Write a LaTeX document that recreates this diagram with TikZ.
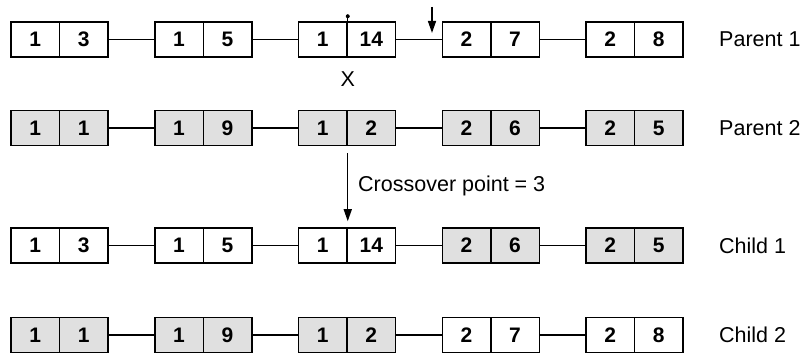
\documentclass[tikz,border=0pt]{standalone}
\usepackage{fontspec}
\setmainfont{Liberation Sans}
\usetikzlibrary{arrows.meta}
\begin{document}
\begin{tikzpicture}[x=1pt,y=-1pt,
  cell/.style={draw, line width=1.5pt, minimum width=48.5pt, minimum height=35pt,
    inner sep=0pt, font=\fontsize{21}{23}\selectfont\bfseries},
  link/.style={line width=1.4pt},
  lbl/.style={anchor=west, inner sep=0pt, font=\fontsize{21.5}{23}\selectfont},
  ptr/.style={line width=1.4pt, -{Triangle[length=12pt,width=8pt]}}
]
\useasboundingbox (0,0) rectangle (802,355);
\def\sh{black!12}
% Row 1: Parent 1
\foreach \a/\b/\f [count=\i from 0] in {1/3/white,1/5/white,1/14/white,2/7/white,2/8/white}{
  \node[cell, fill=\f] (r1a\i) at ({35.25+143.75*\i},39.5) {\a};
  \node[cell, fill=\f] (r1b\i) at ({83.75+143.75*\i},39.5) {\b};
}
% Row 2: Parent 2
\foreach \a/\b/\f [count=\i from 0] in {1/1/\sh,1/9/\sh,1/2/\sh,2/6/\sh,2/5/\sh}{
  \node[cell, fill=\f] (r2a\i) at ({35.25+143.75*\i},128) {\a};
  \node[cell, fill=\f] (r2b\i) at ({83.75+143.75*\i},128) {\b};
}
% Row 3: Child 1
\foreach \a/\b/\f [count=\i from 0] in {1/3/white,1/5/white,1/14/white,2/6/\sh,2/5/\sh}{
  \node[cell, fill=\f] (r3a\i) at ({35.25+143.75*\i},245.5) {\a};
  \node[cell, fill=\f] (r3b\i) at ({83.75+143.75*\i},245.5) {\b};
}
% Row 4: Child 2
\foreach \a/\b/\f [count=\i from 0] in {1/1/\sh,1/9/\sh,1/2/\sh,2/7/white,2/8/white}{
  \node[cell, fill=\f] (r4a\i) at ({35.25+143.75*\i},335) {\a};
  \node[cell, fill=\f] (r4b\i) at ({83.75+143.75*\i},335) {\b};
}
% connectors
\foreach \r in {1,2,3,4}{
  \foreach \i/\j in {0/1,1/2,2/3,3/4}{
    \draw[link] (r\r b\i.east) -- (r\r a\j.west);
  }
}
% labels
\node[lbl] (p1) at (719,39.5) {Parent 1};
\node[lbl] (p2) at (719,128) {Parent 2};
\node[lbl] (c1) at (719,245.5) {Child 1};
\node[lbl] (c2) at (719,335) {Child 2};
% marks on parent 1
\coordinate (tick) at ([yshift=5pt]r1a2.north east);
\draw[line width=1.4pt] (r1a2.north east) -- (tick);
\fill (tick) circle (2pt);
\node[lbl, anchor=center] (xm) at ([yshift=-21pt]r1a2.south east) {X};
\coordinate (a1s) at (432,7);
\coordinate (a1e) at (432,33);
\draw[ptr] (a1s) -- (a1e);
% crossover arrow
\draw[ptr] ([yshift=-7pt]r2a2.south east) -- ([yshift=6pt]r3a2.north east);
\node[lbl] (cp) at (358,186) {Crossover point = 3};
\end{tikzpicture}
\end{document}
